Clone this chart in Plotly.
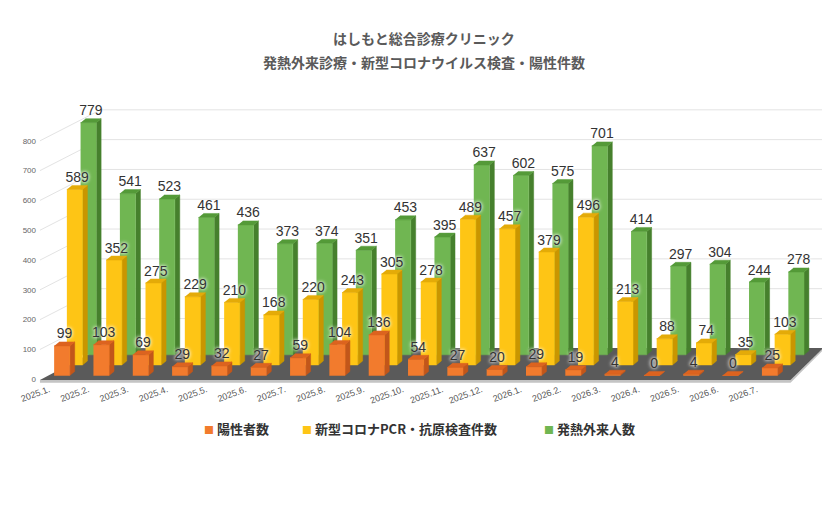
import plotly.graph_objects as go

# data
months = ["2025.1.", "2025.2.", "2025.3.", "2025.4.", "2025.5.", "2025.6.",
          "2025.7.", "2025.8.", "2025.9.", "2025.10.", "2025.11.", "2025.12.",
          "2026.1.", "2026.2.", "2026.3.", "2026.4.", "2026.5.", "2026.6.", "2026.7."]
positive = [99, 103, 69, 29, 32, 27, 59, 104, 136, 54, 27, 20, 29, 19, 4, 0, 4, 0, 25]
tests = [589, 352, 275, 229, 210, 168, 220, 243, 305, 278, 489, 457, 379, 496, 213, 88, 74, 35, 103]
fever = [779, 541, 523, 461, 436, 373, 374, 351, 453, 395, 637, 602, 575, 701, 414, 297, 304, 244, 278]
y_ticks = [0, 100, 200, 300, 400, 500, 600, 700, 800]

# pseudo-3D geometry (pixels -> axis units)
PX_X = 40.17   # px per category
PX_Y = 0.298   # px per value unit
W = 16 / PX_X          # bar front width
DX = 5 / PX_X          # depth to the right
DY = 4 / PX_Y          # depth upwards
BACK = 104             # back wall offset in value units

rows = [
    # name, values, x shift, base, front, side, top
    ("発熱外来人数", fever, 27 / PX_X, 82, "#70b652", "#46802d", "#549a38"),
    ("新型コロナPCR・抗原検査件数", tests, 13 / PX_X, 48, "#fec515", "#c99600", "#e4ab08"),
    ("陽性者数", positive, 0.0, 13, "#f27b2d", "#c2561a", "#dc631f"),
]

fig = go.Figure()

# back wall and left wall grid lines
gx, gy = [], []
for v in y_ticks[1:]:
    gx += [-0.56, 0.98, 19.5, None]
    gy += [v, v + BACK, v + BACK, None]
fig.add_trace(go.Scatter(x=gx, y=gy, mode="lines", line=dict(color="#e3e3e3", width=1),
                         hoverinfo="skip", showlegend=False))

# floor
fig.add_trace(go.Scatter(x=[-0.56, 18.53, 18.53, -0.56, None, 18.53, 19.36, 19.36, 18.53],
                         y=[-2.3, -2.3, -12, -12, None, -2.3, 105, 98, -12],
                         fill="toself", fillcolor="#c4c4c4", mode="lines", line=dict(width=0),
                         hoverinfo="skip", showlegend=False))
fig.add_trace(go.Scatter(x=[-0.56, 18.53, 19.36, 0.98], y=[-2.3, -2.3, 105, 105],
                         fill="toself", fillcolor="#5a5a5a", mode="lines", line=dict(width=0),
                         hoverinfo="skip", showlegend=False))

labels = []
for name, vals, shift, base, c_front, c_side, c_top in rows:
    fx, fy, sx, sy, tx, ty = [], [], [], [], [], []
    for i, v in enumerate(vals):
        x0 = i + shift - W / 2
        x1 = x0 + W
        y0, y1 = base, base + v
        fx += [x0, x1, x1, x0, None]
        fy += [y0, y0, y1, y1, None]
        sx += [x1, x1 + DX, x1 + DX, x1, None]
        sy += [y0, y0 + DY, y1 + DY, y1, None]
        tx += [x0, x1, x1 + DX, x0 + DX, None]
        ty += [y1, y1, y1 + DY, y1 + DY, None]
    for xs, ys, col in [(sx, sy, c_side), (fx, fy, c_front), (tx, ty, c_top)]:
        fig.add_trace(go.Scatter(x=xs, y=ys, fill="toself", fillcolor=col, mode="lines",
                                 line=dict(width=0.5, color=col), hoverinfo="skip",
                                 showlegend=False))
    labels.append(go.Scatter(
        x=[i + shift + DX / 2 for i in range(len(vals))],
        y=[base + v + DY for v in vals],
        text=[str(v) for v in vals], mode="text", textposition="top center",
        textfont=dict(family="Liberation Sans, Arial", size=14, color="#333333",
                      shadow="0px 0px 3px #ffffff, 0px 0px 4px #ffffff"),
        hoverinfo="skip", showlegend=False))

for t in labels:
    fig.add_trace(t)

# titles
title_font = dict(family="Noto Sans CJK JP", size=14, color="#5a5a5a", weight="bold")
fig.add_annotation(text="はしもと総合診療クリニック", xref="paper", yref="paper",
                   x=0.491, y=1.0, yshift=62, yanchor="middle", showarrow=False, font=title_font)
fig.add_annotation(text="発熱外来診療・新型コロナウイルス検査・陽性件数", xref="paper", yref="paper",
                   x=0.491, y=1.0, yshift=38, yanchor="middle", showarrow=False, font=title_font)

# legend row (colored square + series name)
legend_pos = [("陽性者数", "#f27b2d", 189), ("新型コロナPCR・抗原検査件数", "#fec515", 289),
              ("発熱外来人数", "#70b652", 536)]
for name, col, px in legend_pos:
    fig.add_annotation(
        text=f"<span style='color:{col};font-size:10px'>■</span> {name}",
        xref="paper", yref="paper", x=(px - 20) / 805, y=(384 - 428) / 284,
        xanchor="left", yanchor="middle", showarrow=False,
        font=dict(family="Noto Sans CJK JP", size=13, color="#333333", weight="bold"))

fig.update_layout(
    width=830, height=510,
    margin=dict(l=12, r=13, t=92, b=134),
    paper_bgcolor="white", plot_bgcolor="white",
    showlegend=False,
    xaxis=dict(range=[-0.635, 19.405], tickvals=[i - 0.33 for i in range(len(months))],
               ticktext=months, tickangle=-20, showgrid=False, zeroline=False, showline=False,
               ticklabelstandoff=-2,
               tickfont=dict(family="Liberation Sans, Arial", size=9, color="#555555")),
    yaxis=dict(range=[-15.8, 937], tickvals=y_ticks, showgrid=False, zeroline=False,
               showline=False,
               tickfont=dict(family="Liberation Sans, Arial", size=8, color="#666666")),
)

fig.write_html("out.html")
